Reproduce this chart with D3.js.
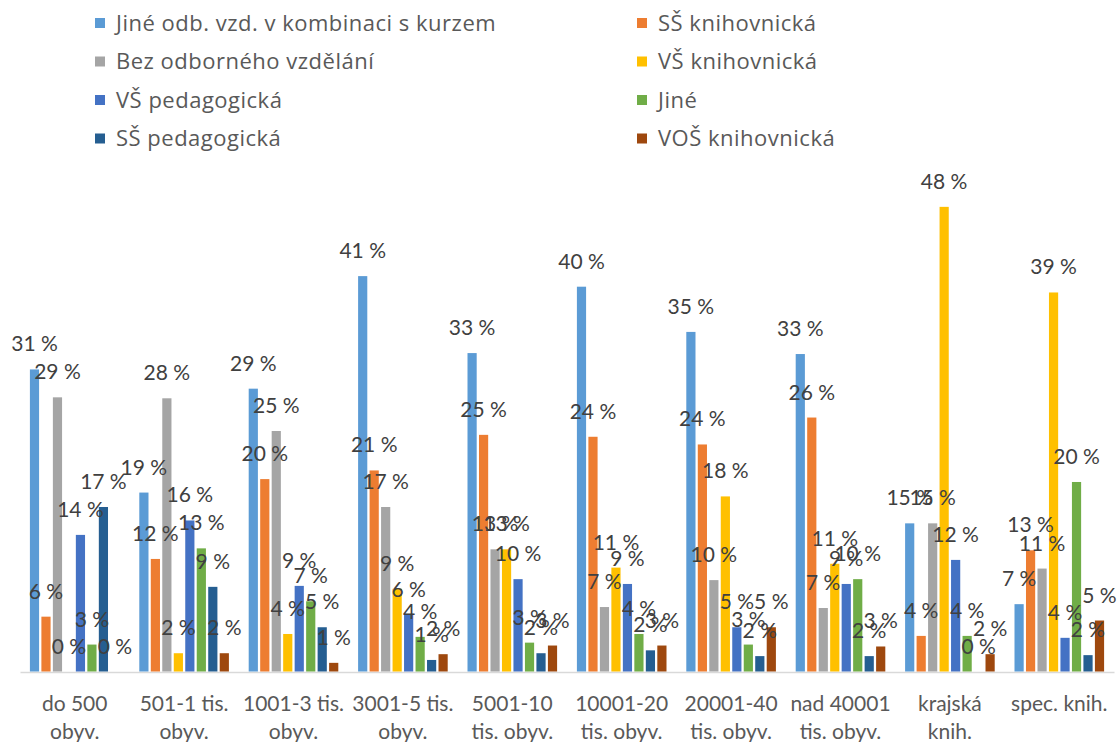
<!DOCTYPE html>
<html>
<head>
<meta charset="utf-8">
<script src="https://cdn.jsdelivr.net/npm/d3@7"></script>
<style>
  html, body { margin: 0; padding: 0; background: #fff; }
  svg { display: block; }
  text { font-family: Lato, "Open Sans", sans-serif; }
</style>
</head>
<body>
<svg id="chart" width="1118" height="742"></svg>
<script>
// ---- data ----
const categories = [
  "do 500\nobyv.", "501-1 tis.\nobyv.", "1001-3 tis.\nobyv.", "3001-5 tis.\nobyv.",
  "5001-10\ntis. obyv.", "10001-20\ntis. obyv.", "20001-40\ntis. obyv.",
  "nad 40001\ntis. obyv.", "krajská\nknih.", "spec. knih."
];
const seriesNames = [
  "Jiné odb. vzd. v kombinaci s kurzem", "SŠ knihovnická", "Bez odborného vzdělání",
  "VŠ knihovnická", "VŠ pedagogická", "Jiné", "SŠ pedagogická", "VOŠ knihovnická"
];
const jineOdbKurz   = [31.4, 18.6, 29.4, 41.1, 33.1, 40.0, 35.3, 33.0, 15.4, 7.0];
const ssKnihovnicka = [5.7, 11.7, 20.0, 20.9, 24.6, 24.4, 23.6, 26.4, 3.7, 12.6];
const bezOdborneho  = [28.5, 28.4, 25.0, 17.1, 12.7, 6.7, 9.5, 6.6, 15.4, 10.7];
const vsKnihovnicka = [0, 1.9, 3.9, 8.6, 12.7, 10.8, 18.2, 11.2, 48.3, 39.4];
const vsPedagogicka = [14.2, 15.7, 8.9, 5.9, 9.6, 9.1, 4.6, 9.1, 11.6, 3.5];
const jine          = [2.8, 12.8, 7.3, 3.6, 3.0, 3.9, 2.8, 9.6, 3.7, 19.7];
const ssPedagogicka = [17.1, 8.8, 4.6, 1.2, 1.9, 2.2, 1.6, 1.6, 0, 1.7];
const vosKnihovnicka= [0, 1.9, 0.9, 1.8, 2.7, 2.7, 4.6, 2.6, 1.8, 5.3];
const seriesValues = [jineOdbKurz, ssKnihovnicka, bezOdborneho, vsKnihovnicka,
                      vsPedagogicka, jine, ssPedagogicka, vosKnihovnicka];
const colors = ["#5B9BD5", "#ED7D31", "#A5A5A5", "#FFC000", "#4472C4", "#70AD47", "#255E91", "#9E480E"];
const yMax = 50;

// ---- layout ----
const svg = d3.select("#chart");
const plot = { left: 20, right: 1114, top: 190.5, bottom: 671.5 };

const x0 = d3.scaleBand().domain(categories).range([plot.left, plot.right])
  .paddingInner(0.16).paddingOuter(0.08);
const x1 = d3.scaleBand().domain(seriesNames).range([0, x0.bandwidth()])
  .paddingInner(0.2).paddingOuter(0.1);
const y = d3.scaleLinear().domain([0, yMax]).range([plot.bottom, plot.top]);
const color = d3.scaleOrdinal().domain(seriesNames).range(colors);

// axis line
const xAxis = d3.axisBottom(x0).tickSize(0).tickFormat("");
const gx = svg.append("g").attr("transform", `translate(0,${plot.bottom + 0.5})`).call(xAxis);
gx.select(".domain").attr("stroke", "#D9D9D9").attr("stroke-width", 1.5);

// category labels
categories.forEach(c => {
  const t = svg.append("text")
    .attr("x", x0(c) + x0.bandwidth() / 2)
    .attr("y", 711)
    .attr("text-anchor", "middle")
    .attr("fill", "#595959")
    .style("font-size", "21px");
  c.split("\n").forEach((line, i) => {
    t.append("tspan").attr("x", x0(c) + x0.bandwidth() / 2).attr("dy", i === 0 ? 0 : 28).text(line);
  });
});

// bars
const rows = [];
categories.forEach((c, ci) => {
  seriesNames.forEach((s, si) => rows.push({ c, s, v: seriesValues[si][ci] }));
});
const gBars = svg.append("g");
gBars.selectAll("rect").data(rows).join("rect")
  .attr("x", d => x0(d.c) + x1(d.s))
  .attr("y", d => y(d.v))
  .attr("width", x1.bandwidth())
  .attr("height", d => y(0) - y(d.v))
  .attr("fill", d => color(d.s));

// data labels
const fmt = v => `${Math.round(v)} %`;
svg.append("g").selectAll("text").data(rows).join("text")
  .attr("x", d => x0(d.c) + x1(d.s) + x1.bandwidth() / 2)
  .attr("y", d => y(d.v) - 18)
  .attr("text-anchor", "middle")
  .attr("fill", "#404040")
  .style("font-size", "21px")
  .text(d => fmt(d.v));

// legend (2 columns, row-major)
const legendCols = [95, 637];
const legendRows = [23, 61.5, 100, 138.5];
const lg = svg.append("g");
seriesNames.forEach((s, i) => {
  const col = i % 2, row = Math.floor(i / 2);
  const gx0 = legendCols[col], gy = legendRows[row];
  lg.append("rect").attr("x", gx0).attr("y", gy - 5).attr("width", 10).attr("height", 10).attr("fill", color(s));
  lg.append("text").attr("x", gx0 + 21).attr("y", gy + 7.5)
    .attr("fill", "#595959")
    .style("font-family", "'Open Sans', Lato, sans-serif")
    .style("font-size", "22px")
    .style("letter-spacing", "0.5px")
    .text(s);
});
</script>
</body>
</html>
